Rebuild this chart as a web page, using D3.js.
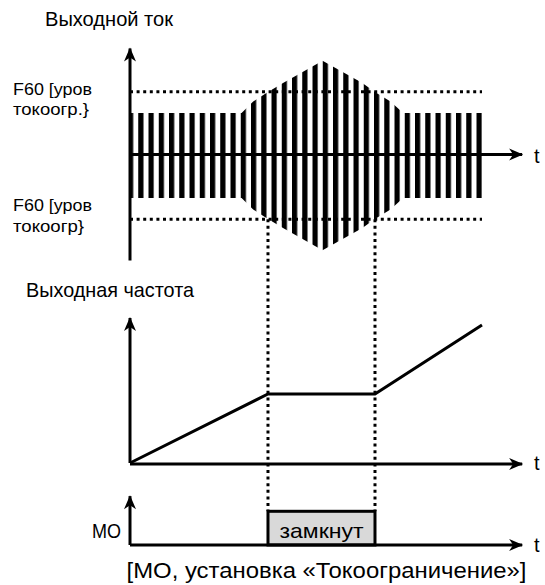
<!DOCTYPE html>
<html>
<head>
<meta charset="utf-8">
<script src="https://cdn.jsdelivr.net/npm/d3@7"></script>
<style>
  html, body { margin: 0; padding: 0; background: #fff; }
  svg { display: block; }
  text { font-family: "Liberation Sans Narrow", "Arial Narrow", "Liberation Sans", Arial, sans-serif; fill: #000; }
</style>
</head>
<body>
<svg id="chart" width="545" height="585"></svg>
<script>
// ---------- DATA ----------
// Output current envelope (time, amplitude of PWM band)
const currentTime = [0, 31.7, 35, 39.2, 43.6, 54.7, 65.9, 69.6, 74, 77.6, 100];
const currentAmp  = [42.5, 42.5, 54, 63.5, 72.8, 94.7, 72.8, 63.5, 54, 42.5, 42.5];
// current limit level (F60)
const limitLevel = 63.7;
// Output frequency polyline
const freqTime  = [0, 39.2, 69.6, 100];
const freqValue = [0, 47.6, 47.6, 95.2];
// MO output (closed interval)
const moOn = [39.2, 69.6];
// Texts
const titleCurrent = "Выходной ток";
const titleFreq = "Выходная частота";
const limitLabelUpper = ["F60 [уров", "токоогр.}"];
const limitLabelLower = ["F60 [уров", "токоогр}"];
const moLabel = "MO";
const moStateLabel = "замкнут";
const caption = "[MO, установка «Токоограничение»]";
const timeLabel = "t";

// ---------- SCALES ----------
const svg = d3.select("#chart");
const x = d3.scaleLinear().domain([0, 100]).range([130, 482]);
const yCur = d3.scaleLinear().domain([-100, 100]).range([255.5, 55.5]);
const yFreq = d3.scaleLinear().domain([0, 100]).range([463, 318]);
const yMO = d3.scaleLinear().domain([0, 1]).range([545, 511.3]);

const defs = svg.append("defs");
defs.append("marker")
  .attr("id", "arrow")
  .attr("viewBox", "-14 -7 16 14")
  .attr("markerUnits", "userSpaceOnUse")
  .attr("markerWidth", 16).attr("markerHeight", 14)
  .attr("refX", 0).attr("refY", 0)
  .attr("orient", "auto")
  .append("path")
  .attr("d", "M1,0 L-13,-6 L-9,0 L-13,6 Z")
  .attr("fill", "#000");

const pat = defs.append("pattern")
  .attr("id", "stripes")
  .attr("patternUnits", "userSpaceOnUse")
  .attr("x", x(0) - 2).attr("y", 0)
  .attr("width", 10.25).attr("height", 10);
pat.append("rect").attr("x", 0).attr("y", 0).attr("width", 5.2).attr("height", 10).attr("fill", "#000");

// ---------- CURRENT PANEL ----------
const env = currentTime.map((t, i) => ({ t, a: currentAmp[i] }));
const area = d3.area()
  .x(d => x(d.t))
  .y0(d => yCur(-d.a))
  .y1(d => yCur(d.a));
svg.append("path").datum(env).attr("d", area).attr("fill", "url(#stripes)");

[limitLevel, -limitLevel].forEach(v => {
  svg.append("line")
    .attr("x1", x(0)).attr("x2", x(100))
    .attr("y1", yCur(v)).attr("y2", yCur(v))
    .attr("stroke", "#000").attr("stroke-width", 3)
    .attr("stroke-dasharray", "3,3.6");
});

svg.append("line").attr("x1", x(0)).attr("x2", x(0))
  .attr("y1", yCur(-105)).attr("y2", yCur(107))
  .attr("stroke", "#000").attr("stroke-width", 3).attr("marker-end", "url(#arrow)");
svg.append("line").attr("x1", x(0)).attr("x2", x(111.4))
  .attr("y1", yCur(1)).attr("y2", yCur(1))
  .attr("stroke", "#000").attr("stroke-width", 3).attr("marker-end", "url(#arrow)");

// ---------- DOTTED GUIDES ----------
moOn.forEach(t => {
  svg.append("line")
    .attr("x1", x(t)).attr("x2", x(t))
    .attr("y1", yCur(-limitLevel)).attr("y2", yMO(1))
    .attr("stroke", "#000").attr("stroke-width", 3)
    .attr("stroke-dasharray", "3,3.6");
});

// ---------- FREQUENCY PANEL ----------
const fData = freqTime.map((t, i) => ({ t, f: freqValue[i] }));
svg.append("line").attr("x1", x(0)).attr("x2", x(0))
  .attr("y1", yFreq(0)).attr("y2", yFreq(100))
  .attr("stroke", "#000").attr("stroke-width", 3).attr("marker-end", "url(#arrow)");
svg.append("line").attr("x1", x(0)).attr("x2", x(111.4))
  .attr("y1", yFreq(-0.7)).attr("y2", yFreq(-0.7))
  .attr("stroke", "#000").attr("stroke-width", 3).attr("marker-end", "url(#arrow)");
svg.append("path").datum(fData)
  .attr("d", d3.line().x(d => x(d.t)).y(d => yFreq(d.f)))
  .attr("fill", "none").attr("stroke", "#000").attr("stroke-width", 3);

// ---------- MO PANEL ----------
svg.append("rect")
  .attr("x", x(moOn[0])).attr("y", yMO(1))
  .attr("width", x(moOn[1]) - x(moOn[0])).attr("height", yMO(0) - yMO(1))
  .attr("fill", "#d9d9d9").attr("stroke", "#000").attr("stroke-width", 3);
svg.append("line").attr("x1", x(0)).attr("x2", x(0))
  .attr("y1", yMO(0)).attr("y2", yMO(1.45))
  .attr("stroke", "#000").attr("stroke-width", 3).attr("marker-end", "url(#arrow)");
svg.append("line").attr("x1", x(0)).attr("x2", x(111.4))
  .attr("y1", yMO(0)).attr("y2", yMO(0))
  .attr("stroke", "#000").attr("stroke-width", 3).attr("marker-end", "url(#arrow)");

// ---------- TEXT ----------
function label(tx, xx, yy, size, len, anchor) {
  const t = svg.append("text").attr("x", xx).attr("y", yy).attr("font-size", size).text(tx);
  if (anchor) t.attr("text-anchor", anchor);
  if (len) t.attr("textLength", len).attr("lengthAdjust", "spacingAndGlyphs");
  return t;
}
label(titleCurrent, 45, 26, 21, 128);
label(limitLabelUpper[0], 13, 95, 17, 79);
label(limitLabelUpper[1], 13, 115, 17, 76);
label(limitLabelLower[0], 13, 211, 17, 79);
label(limitLabelLower[1], 13, 232, 17, 71);
label(titleFreq, 26, 297, 21, 168);
label(moLabel, 92, 538, 20, 29);
label(moStateLabel, (x(moOn[0]) + x(moOn[1])) / 2, 538, 21, 84, "middle");
label(caption, 126.5, 578, 22, 400);
[yCur(0), yFreq(0), yMO(0)].forEach(yy => label(timeLabel, 534, yy + 7, 20, 0));
</script>
</body>
</html>
